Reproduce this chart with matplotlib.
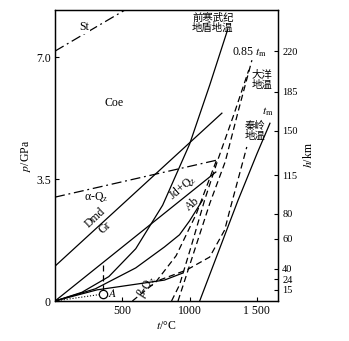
import matplotlib
matplotlib.use("Agg")
import matplotlib.pyplot as plt

plt.rcParams["font.family"] = ["Liberation Serif", "Noto Sans CJK SC"]
plt.rcParams["mathtext.fontset"] = "stix"

# t (°C), p (GPa)
st_t = [0, 520]
st_p = [7.17, 8.35]

coe_t = [0, 1200]
coe_p = [2.98, 4.04]

dmd_t = [0, 1240]
dmd_p = [1.0, 5.39]

jd_t = [0, 1195]
jd_p = [0, 3.70]

shield_t = [0, 200, 400, 600, 800, 1000, 1150, 1284]
shield_p = [0, 0.25, 0.7, 1.5, 2.75, 4.5, 6.2, 7.8]

c3_t = [0, 300, 600, 813, 925, 1000, 1097]
c3_p = [0, 0.35, 0.95, 1.55, 1.9, 2.3, 2.9]

low_t = [0, 313, 813, 948]
low_p = [0, 0.32, 0.60, 0.80]

tm_t = [1075, 1358, 1500, 1597]
tm_p = [0, 2.87, 4.22, 5.1]

bq_t = [575, 750, 900, 1050, 1200]
bq_p = [0, 0.55, 1.3, 2.5, 4.04]

tm85_t = [914, 1150, 1265, 1365, 1463]
tm85_p = [0, 2.8, 4.0, 5.5, 6.91]

ocean_t = [866, 925, 1015, 1112, 1209, 1328, 1440]
ocean_p = [0, 0.46, 1.61, 2.9, 4.04, 5.34, 6.63]

qinling_t = [776, 978, 1149, 1261, 1299, 1425]
qinling_p = [0.60, 0.89, 1.26, 2.04, 2.61, 4.42]

point_a = (358, 0.2)

depth_labels = ["220", "185", "150", "115", "80", "60", "40", "24", "15"]
depth_p = [7.17, 6.0, 4.88, 3.61, 2.50, 1.78, 0.92, 0.63, 0.32]

fig = plt.figure(figsize=(3.49, 3.41), dpi=100)
ax = fig.add_axes([0.1576, 0.1173, 0.639, 0.8534])

lw = 0.9
dash = (0, (5, 3))
dashdot = (0, (8, 3, 1.5, 3))

ax.plot(st_t, st_p, color="k", lw=lw, linestyle=dashdot)
ax.plot(coe_t, coe_p, color="k", lw=lw, linestyle=dashdot)
ax.plot(dmd_t, dmd_p, color="k", lw=lw)
ax.plot(jd_t, jd_p, color="k", lw=lw)
ax.plot(shield_t, shield_p, color="k", lw=lw)
ax.plot(c3_t, c3_p, color="k", lw=lw)
ax.plot(low_t, low_p, color="k", lw=lw)
ax.plot(tm_t, tm_p, color="k", lw=lw)
ax.plot(bq_t, bq_p, color="k", lw=lw, linestyle=dash)
ax.plot(tm85_t, tm85_p, color="k", lw=lw, linestyle=dash)
ax.plot(ocean_t, ocean_p, color="k", lw=lw, linestyle=dash)
ax.plot(qinling_t, qinling_p, color="k", lw=lw, linestyle=dash)

ax.plot([0, point_a[0]], [0, point_a[1]], color="k", lw=0.8, linestyle=":")
ax.plot([point_a[0], point_a[0]], [0.3, 1.03], color="k", lw=lw, linestyle=dash)
ax.plot(*point_a, marker="o", ms=6, mfc="white", mec="k", mew=0.9)

fs = 8.5
ax.text(216, 7.86, "St", fontsize=fs, ha="center", va="center",
        bbox=dict(facecolor="white", edgecolor="none", pad=0.5))
ax.text(440, 5.68, "Coe", fontsize=fs, ha="center", va="center")
ax.text(306, 2.98, "α-Q$_\\mathrm{z}$", fontsize=fs, ha="center", va="center")
ax.text(300, 2.40, "Dmd", fontsize=fs, ha="center", va="center", rotation=43)
ax.text(370, 2.10, "Gr", fontsize=fs, ha="center", va="center", rotation=43)
ax.text(948, 3.27, "Jd+Q$_\\mathrm{z}$", fontsize=fs, ha="center", va="center", rotation=40)
ax.text(1022, 2.78, "Ab", fontsize=fs, ha="center", va="center", rotation=40)
ax.text(679, 0.42, "β-Q$_\\mathrm{z}$", fontsize=fs, ha="center", va="center", rotation=58)
ax.text(425, 0.2, "$A$", fontsize=fs, ha="center", va="center")
ax.text(1172, 7.98, "前寒武纪\n地盾地温", fontsize=7.5, ha="center", va="center",
        linespacing=1.0)
ax.text(1448, 7.14, "0.85 $t_\\mathrm{m}$", fontsize=fs, ha="center", va="center")
ax.text(1537, 6.34, "大洋\n地温", fontsize=7.5, ha="center", va="center", linespacing=1.0)
ax.text(1485, 4.88, "秦岭\n地温", fontsize=7.5, ha="center", va="center", linespacing=1.0)
ax.text(1582, 5.42, "$t_\\mathrm{m}$", fontsize=fs, ha="center", va="center")

ax.set_xlim(0, 1657)
ax.set_ylim(0, 8.35)
ax.set_xticks([500, 1000, 1500])
ax.set_xticklabels(["500", "1000", "1 500"])
ax.set_yticks([0, 3.5, 7.0])
ax.set_yticklabels(["0", "3.5", "7.0"])
ax.tick_params(direction="in", length=3, width=0.8, labelsize=fs, pad=3)
ax.set_xlabel("$t$/°C", fontsize=fs, labelpad=2)
ax.set_ylabel("$p$/GPa", fontsize=fs, labelpad=2)

ax2 = ax.twinx()
ax2.set_ylim(ax.get_ylim())
ax2.set_yticks(depth_p)
ax2.set_yticklabels(depth_labels)
ax2.tick_params(direction="in", length=3, width=0.8, labelsize=7.5, pad=3)
ax2.set_ylabel("$h$/km", fontsize=fs, labelpad=3)

for a in (ax, ax2):
    for s in a.spines.values():
        s.set_linewidth(0.9)

fig.savefig("out.png", dpi=100)
